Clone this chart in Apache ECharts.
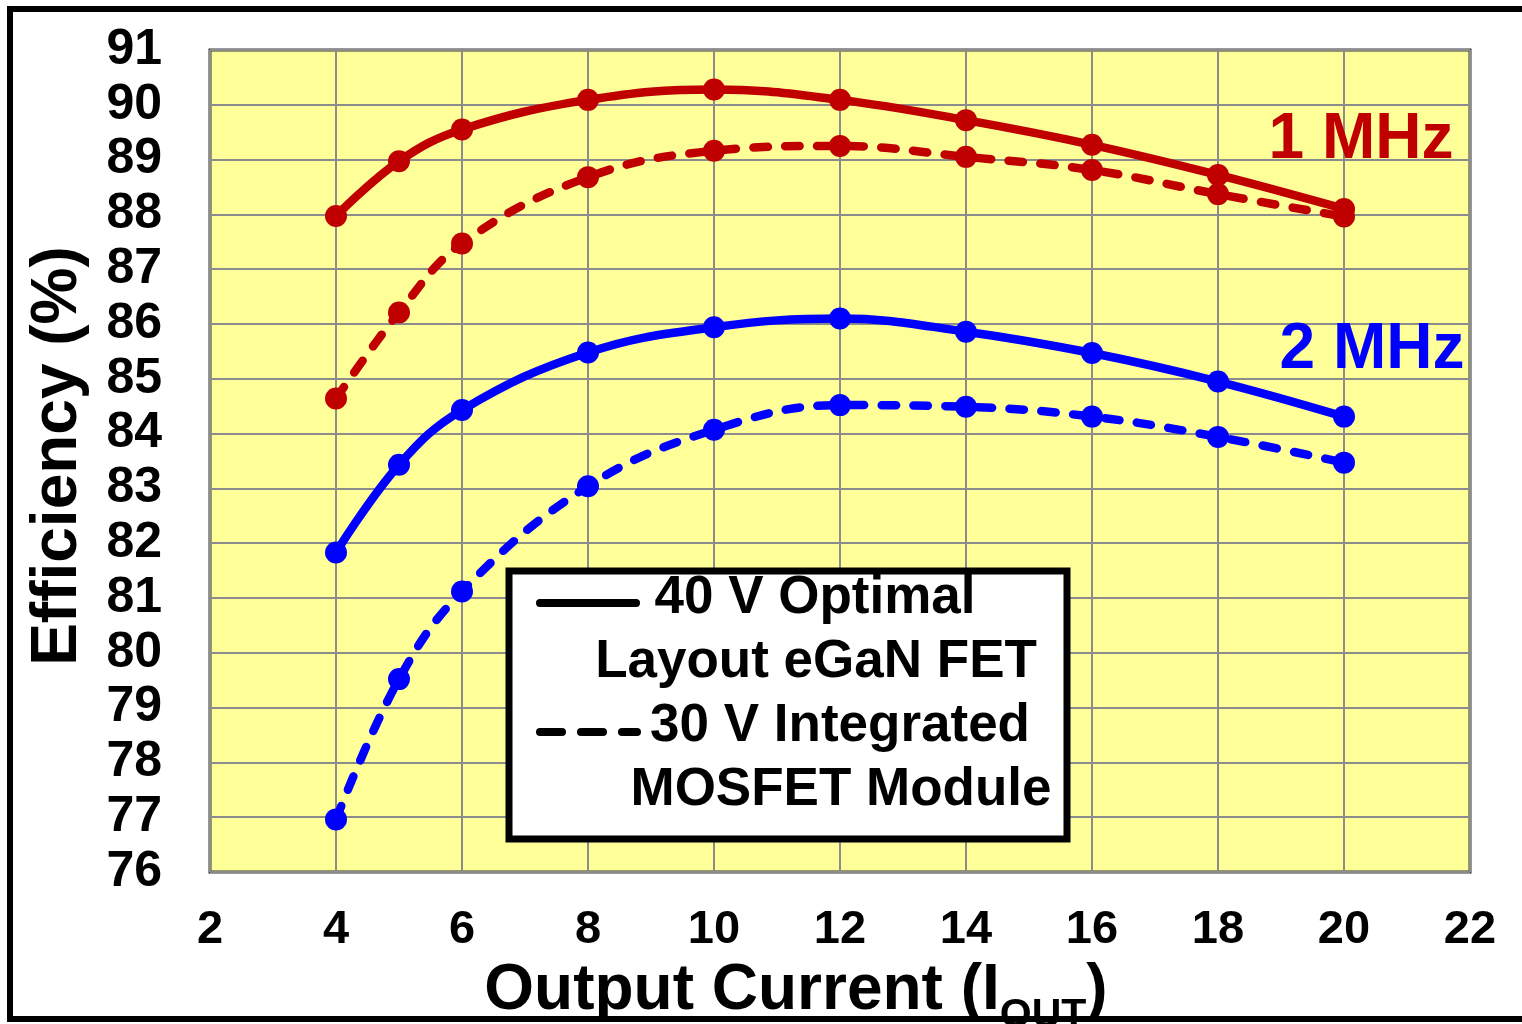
<!DOCTYPE html>
<html><head><meta charset="utf-8">
<script src="https://cdn.jsdelivr.net/npm/echarts@6/dist/echarts.min.js"></script>
<style>html,body{margin:0;padding:0;background:#fff}#c{width:1522px;height:1024px}</style>
</head><body><div id="c"></div>
<script>
const xValues = [4, 5, 6, 8, 10, 12, 14, 16, 18, 20];
const eff1MHz40V = [87.97, 88.97, 89.55, 90.09, 90.28, 90.09, 89.72, 89.27, 88.72, 88.10];
const eff1MHz30V = [84.64, 86.21, 87.47, 88.68, 89.16, 89.25, 89.05, 88.81, 88.37, 87.96];
const eff2MHz40V = [81.83, 83.43, 84.43, 85.48, 85.94, 86.10, 85.86, 85.47, 84.95, 84.31];
const eff2MHz30V = [76.96, 79.52, 81.12, 83.04, 84.07, 84.52, 84.49, 84.31, 83.94, 83.47];
const seriesNames = ['1 MHz 40 V Optimal Layout eGaN FET', '1 MHz 30 V Integrated MOSFET Module',
                     '2 MHz 40 V Optimal Layout eGaN FET', '2 MHz 30 V Integrated MOSFET Module'];
const legendLines = ['40 V Optimal', 'Layout eGaN FET', '30 V Integrated', 'MOSFET Module'];
const freqLabels = ['1 MHz', '2 MHz'];

const FF = '"Liberation Sans", Arial, sans-serif';
const RED = '#C00000', BLUE = '#0000FF';
const pts = arr => xValues.map((x, i) => [x, arr[i]]);

function mk(name, arr, color, dashed) {
  return {
    name, type: 'line', data: pts(arr), smooth: 0.4,
    symbol: 'circle', symbolSize: 22,
    lineStyle: { color, width: 8.5, type: dashed ? [14.5, 17.5] : 'solid', cap: 'round' },
    itemStyle: { color },
    z: 5
  };
}

const chart = echarts.init(document.getElementById('c'));
chart.setOption({
  animation: false,
  backgroundColor: '#fff',
  grid: { left: 210, top: 50, right: 52, bottom: 152, show: true, outerBoundsMode: 'none', containLabel: false,
          backgroundColor: '#FFFF99', borderColor: '#333', borderWidth: 3 },
  xAxis: {
    type: 'value', min: 2, max: 22, interval: 2,
    axisLine: { show: false }, axisTick: { show: false },
    splitLine: { show: true, lineStyle: { color: '#8c8c8c', width: 2 } },
    axisLabel: { fontFamily: FF, fontWeight: 'bold', fontSize: 47, color: '#000', margin: 35 },
    name: '{m|Output Current (I}{s|OUT}{m|)}', nameLocation: 'middle', nameGap: 73,
    nameTextStyle: {
      verticalAlign: 'top',
      padding: [0, 88, 0, 0],
      rich: {
        m: { fontFamily: FF, fontWeight: 'bold', fontSize: 64, color: '#000', lineHeight: 70, verticalAlign: 'top' },
        s: { fontFamily: FF, fontWeight: 'bold', fontSize: 41, color: '#000', lineHeight: 41, verticalAlign: 'top', padding: [36, 0, 0, 0] }
      }
    }
  },
  yAxis: {
    type: 'value', min: 76, max: 91, interval: 1,
    axisLine: { show: false }, axisTick: { show: false },
    splitLine: { show: true, lineStyle: { color: '#8c8c8c', width: 2 } },
    axisLabel: { fontFamily: FF, fontWeight: 'bold', fontSize: 50, color: '#000', margin: 48 },
    name: 'Efficiency (%)', nameLocation: 'middle', nameGap: 152, nameRotate: 90,
    nameTextStyle: { fontFamily: FF, fontWeight: 'bold', fontSize: 64, color: '#000', verticalAlign: 'middle', padding: [0, 0, 0, 10] }
  },
  series: [
    mk(seriesNames[0], eff1MHz40V, RED, false),
    mk(seriesNames[1], eff1MHz30V, RED, true),
    mk(seriesNames[2], eff2MHz40V, BLUE, false),
    mk(seriesNames[3], eff2MHz30V, BLUE, true)
  ],
  graphic: [
    { type: 'text', x: 1361, y: 140, z: 50,
      style: { text: freqLabels[0], fill: RED, font: 'bold 64px ' + FF, textAlign: 'center', textVerticalAlign: 'middle' } },
    { type: 'text', x: 1372, y: 350, z: 50,
      style: { text: freqLabels[1], fill: BLUE, font: 'bold 64px ' + FF, textAlign: 'center', textVerticalAlign: 'middle' } },
    { type: 'rect', z: 100, shape: { x: 509, y: 571, width: 558, height: 268 },
      style: { fill: '#fff', stroke: '#000', lineWidth: 7 } },
    { type: 'line', z: 101, shape: { x1: 540, y1: 603, x2: 636, y2: 603 },
      style: { stroke: '#000', lineWidth: 8, lineCap: 'round' } },
    { type: 'line', z: 101, shape: { x1: 540, y1: 732, x2: 637, y2: 732 },
      style: { stroke: '#000', lineWidth: 8, lineCap: 'round', lineDash: [22, 19] } },
    { type: 'text', z: 101, x: 815, y: 598,
      style: { text: legendLines[0], fill: '#000', font: 'bold 53px ' + FF, textAlign: 'center', textVerticalAlign: 'middle' } },
    { type: 'text', z: 101, x: 816, y: 662,
      style: { text: legendLines[1], fill: '#000', font: 'bold 53px ' + FF, textAlign: 'center', textVerticalAlign: 'middle' } },
    { type: 'text', z: 101, x: 840, y: 726,
      style: { text: legendLines[2], fill: '#000', font: 'bold 53px ' + FF, textAlign: 'center', textVerticalAlign: 'middle' } },
    { type: 'text', z: 101, x: 841, y: 790,
      style: { text: legendLines[3], fill: '#000', font: 'bold 53px ' + FF, textAlign: 'center', textVerticalAlign: 'middle' } },
    { type: 'rect', z: 120, shape: { x: 10, y: 9, width: 1540, height: 1010 },
      style: { fill: 'none', stroke: '#000', lineWidth: 6 } }
  ]
});
</script>
</body></html>
